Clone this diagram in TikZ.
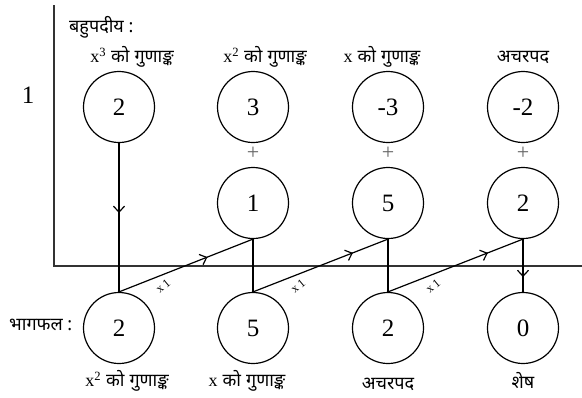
\documentclass[tikz,border=0pt]{standalone}
\usepackage{fontspec}
\setmainfont{Liberation Serif}
\newfontfamily\dev[Script=Devanagari]{Noto Sans}
\usetikzlibrary{arrows.meta,decorations.markings}
\newcommand{\gun}{{\dev को\hspace{5pt}गुणाङ्क}}
\tikzset{
  circ/.style={circle, draw, line width=1.2pt, minimum size=71pt, inner sep=0pt, font=\fontsize{25}{28}\selectfont},
  lbl/.style={font=\fontsize{18}{21}\selectfont, inner sep=1pt},
  conn/.style={line width=1.2pt},
  axisline/.style={line width=1.4pt, draw=black!80},
  plus/.style={font=\fontsize{22}{24}\selectfont, text=black!60},
  midarrow/.style={postaction={decorate}, decoration={markings, mark=at position #1 with {\arrow{Straight Barb[length=6pt, width=11pt, line width=1.2pt]}}}},
  mult/.style={font=\fontsize{12}{13}\selectfont, rotate=40, inner sep=0pt}
}
\begin{document}
\begin{tikzpicture}[x=1pt,y=-1pt]
\useasboundingbox (0,0) rectangle (582,397);
% axes
\coordinate (axtop) at (54,5);
\coordinate (axcorner) at (54,266);
\coordinate (axright) at (582,266);
\draw[axisline] (axtop) -- (axcorner) -- (axright);
% divisor
\node[font=\fontsize{25}{28}\selectfont] (one) at (28,95) {1};
% headings
\node[lbl, anchor=west] (poly) at (68,27) {\dev बहुपदीय :};
\node[lbl] (h1) at (132,57) {x\textsuperscript{3}\hspace{5pt}\gun};
\node[lbl] (h2) at (265,57) {x\textsuperscript{2}\hspace{5pt}\gun};
\node[lbl] (h3) at (382,57) {x\hspace{5pt}\gun};
\node[lbl] (h4) at (523,57) {\dev अचरपद};
% top row
\node[circ] (t1) at (119,107) {2};
\node[circ] (t2) at (253,107) {3};
\node[circ] (t3) at (388,107) {-3};
\node[circ] (t4) at (523,107) {-2};
% plus signs
\node[plus] (p2) at (253,153) {+};
\node[plus] (p3) at (388,153) {+};
\node[plus] (p4) at (523,153) {+};
% middle row
\node[circ] (m2) at (253,203) {1};
\node[circ] (m3) at (388,203) {5};
\node[circ] (m4) at (523,203) {2};
% bottom row
\node[circ] (b1) at (119,328) {2};
\node[circ] (b2) at (253,328) {5};
\node[circ] (b3) at (388,328) {2};
\node[circ] (b4) at (523,328) {0};
% bottom labels
\node[lbl, anchor=west] (quot) at (8,325) {\dev भागफल :};
\node[lbl] (f1) at (127,381) {x\textsuperscript{2}\hspace{5pt}\gun};
\node[lbl] (f2) at (247,381) {x\hspace{5pt}\gun};
\node[lbl] (f3) at (388,384) {\dev अचरपद};
\node[lbl] (f4) at (523,380) {\dev शेष};
% connectors
\draw[conn, midarrow=0.47] (t1.south) -- (b1.north);
\draw[conn, midarrow=0.66] (b1.north) -- (m2.south);
\draw[conn, midarrow=0.74] (b2.north) -- (m3.south);
\draw[conn, midarrow=0.74] (b3.north) -- (m4.south);
\draw[conn] (m2.south) -- (b2.north);
\draw[conn] (m3.south) -- (b3.north);
\draw[conn, midarrow=0.72] (m4.south) -- (b4.north);
% multiplier labels
\node[mult] (x1a) at (163,286) {x 1};
\node[mult] (x1b) at (298,286) {x 1};
\node[mult] (x1c) at (433,286) {x 1};
\end{tikzpicture}
\end{document}
